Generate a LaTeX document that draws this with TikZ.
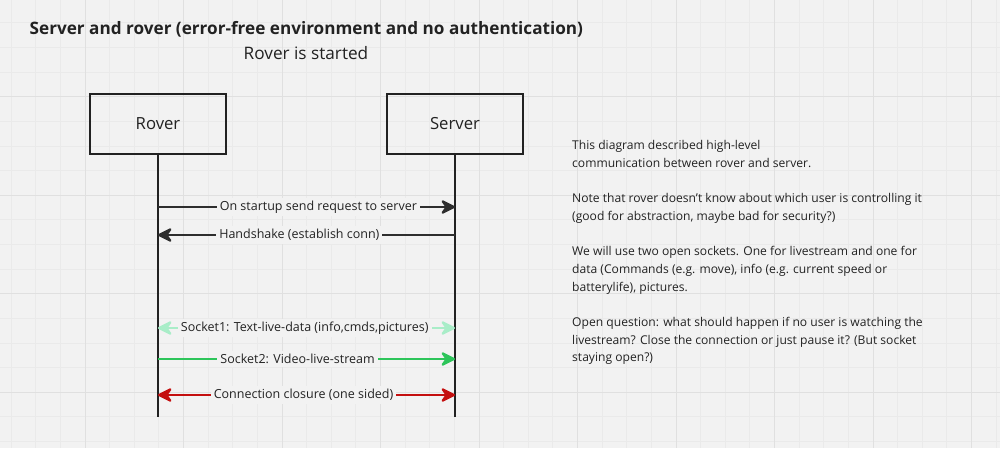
\documentclass[tikz,border=0pt]{standalone}
\usepackage{fontspec}
\setmainfont{Open Sans}
\usetikzlibrary{arrows.meta}

\definecolor{canvas}{HTML}{F2F2F2}
\definecolor{gridminor}{HTML}{EAEAEA}
\definecolor{gridmajor}{HTML}{E0E0E0}
\definecolor{ink}{HTML}{222222}
\definecolor{msgdark}{HTML}{2E2E2E}
\definecolor{sockpale}{HTML}{A9EDC8}
\definecolor{sockgreen}{HTML}{2DC55A}
\definecolor{closered}{HTML}{C40F0F}

\begin{document}
\begin{tikzpicture}[x=1pt,y=-1pt,
actor/.style={draw=ink,line width=2.2pt,minimum width=136pt,minimum height=60pt,
  font=\fontsize{16.7}{19}\selectfont,text=ink},
lifeline/.style={draw=ink,line width=2pt},
msg/.style={line width=2.2pt,draw=#1,
  arrows={-Stealth[length=17pt,width=17pt,inset=6pt,round]}},
msgboth/.style={msg=#1,arrows={Stealth[length=17pt,width=17pt,inset=6pt,round]-Stealth[length=17pt,width=17pt,inset=6pt,round]}},
msglabel/.style={fill=canvas,inner sep=3pt,font=\fontsize{12.5}{14}\selectfont,text=ink}]

% canvas and grid
\useasboundingbox (0,0) rectangle (1000,448);
\fill[canvas] (0,0) rectangle (1000,448);
\begin{scope}
\clip (0,0) rectangle (1000,448);
\foreach \i in {-4,...,37}
  \draw[gridminor,line width=0.8pt] (85+24.625*\i,0) -- (85+24.625*\i,448);
\foreach \j in {-4,...,15}
  \draw[gridminor,line width=0.8pt] (0,96.7+24.625*\j) -- (1000,96.7+24.625*\j);
\foreach \i in {-1,...,9}
  \draw[gridmajor,line width=1pt] (85+98.5*\i,0) -- (85+98.5*\i,448);
\foreach \j in {-1,...,4}
  \draw[gridmajor,line width=1pt] (0,96.7+98.5*\j) -- (1000,96.7+98.5*\j);
\end{scope}

% headings
\node[anchor=west,inner sep=0,font=\fontsize{17.15}{20}\selectfont\bfseries,text=ink] (title) at (29.5,29)
  {Server and rover (error-free environment and no authentication)};
\node[inner sep=0,font=\fontsize{17.2}{20}\selectfont,text=ink] (started) at (306,53) {Rover is started};

% actors and lifelines
\node[actor] (rover) at (158,124) {Rover};
\node[actor] (server) at (455,124) {Server};
\coordinate (rover-end) at (158,417);
\coordinate (server-end) at (455,417);
\draw[lifeline] (rover) -- (rover-end);
\draw[lifeline] (server) -- (server-end);

% messages
\foreach \n/\y in {1/207,2/235,3/328,4/359,5/395}{
  \coordinate (r\n) at (158,\y);
  \coordinate (s\n) at (455,\y);
}
\draw[msg=msgdark] (r1) -- node[msglabel,pos=0.54] {On startup send request to server} (s1);
\draw[msg=msgdark] (s2) -- node[msglabel,pos=0.524] {Handshake (establish conn)} (r2);
\draw[msgboth=sockpale] (r3) -- node[msglabel,pos=0.494] {Socket1: Text-live-data (info,cmds,pictures)} (s3);
\draw[msg=sockgreen] (r4) -- node[msglabel,pos=0.47] {Socket2: Video-live-stream} (s4);
\draw[msgboth=closered] (r5) -- node[msglabel,pos=0.49] {Connection closure (one sided)} (s5);

% notes
\node[anchor=north west,inner sep=0,align=left,text=ink,
  font=\fontsize{12.1}{17.7}\selectfont] (notes) at (572,140)
  {This diagram described high-level\\
   communication between rover and server.\\[17.7pt]
   Note that rover doesn{\char39}t know about which user is controlling it\\
   (good for abstraction, maybe bad for security?)\\[17.7pt]
   We will use two open sockets. One for livestream and one for\\
   data (Commands (e.g. move), info (e.g. current speed or\\
   batterylife), pictures.\\[17.7pt]
   Open question: what should happen if no user is watching the\\
   livestream? Close the connection or just pause it? (But socket\\
   staying open?)};
\end{tikzpicture}
\end{document}
